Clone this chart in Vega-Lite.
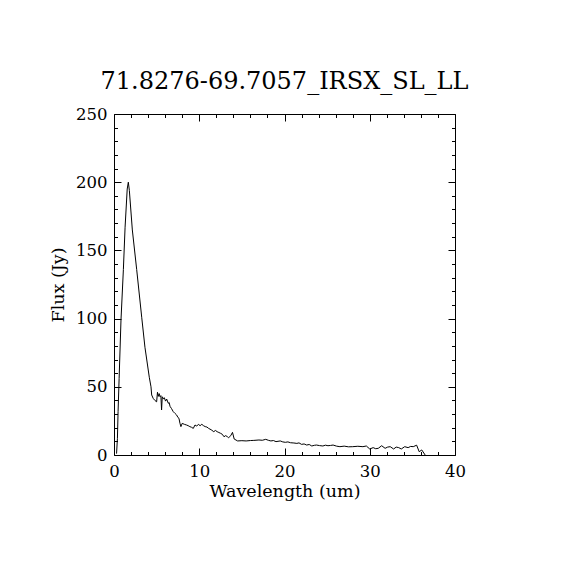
{
  "$schema": "https://vega.github.io/schema/vega-lite/v6.json",
  "autosize": "none",
  "padding": {"left": 114, "top": 114, "right": 115, "bottom": 115},
  "width": 341,
  "height": 341,
  "background": "white",
  "title": {
    "text": "71.8276-69.7057_IRSX_SL_LL",
    "font": "DejaVu Serif",
    "fontSize": 24,
    "fontWeight": "normal",
    "color": "black",
    "baseline": "alphabetic",
    "offset": -7,
    "anchor": "middle"
  },
  "config": {
    "view": {"stroke": null},
    "axis": {
      "grid": false,
      "domainColor": "black",
      "tickColor": "black",
      "labelColor": "black",
      "titleColor": "black",
      "labelFont": "DejaVu Serif",
      "titleFont": "DejaVu Serif",
      "labelFontSize": 16.5,
      "titleFontSize": 17.5,
      "titleFontWeight": "normal",
      "tickWidth": 1,
      "domainWidth": 1
    }
  },
  "data": {
    "values": [
      {"w": 0.3, "f": 1},
      {"w": 0.4, "f": 12},
      {"w": 0.48, "f": 32},
      {"w": 0.6, "f": 56},
      {"w": 0.82, "f": 99},
      {"w": 1.1, "f": 136},
      {"w": 1.3, "f": 167},
      {"w": 1.55, "f": 195},
      {"w": 1.68, "f": 200},
      {"w": 1.8, "f": 194},
      {"w": 2.15, "f": 165},
      {"w": 2.66, "f": 136},
      {"w": 3.25, "f": 101},
      {"w": 3.63, "f": 79},
      {"w": 4.14, "f": 57},
      {"w": 4.34, "f": 50},
      {"w": 4.42, "f": 44},
      {"w": 4.6, "f": 41.5},
      {"w": 4.8, "f": 40},
      {"w": 5.0, "f": 39},
      {"w": 5.1, "f": 46},
      {"w": 5.2, "f": 43},
      {"w": 5.3, "f": 45},
      {"w": 5.4, "f": 42.7},
      {"w": 5.5, "f": 43.5},
      {"w": 5.58, "f": 33},
      {"w": 5.66, "f": 42.7},
      {"w": 5.8, "f": 41},
      {"w": 5.9, "f": 42},
      {"w": 6.05, "f": 39.5},
      {"w": 6.18, "f": 41},
      {"w": 6.37, "f": 37.9},
      {"w": 6.47, "f": 38.5},
      {"w": 6.57, "f": 35.7},
      {"w": 6.75, "f": 34},
      {"w": 6.95, "f": 31.8},
      {"w": 7.15, "f": 30.5},
      {"w": 7.35, "f": 29.3},
      {"w": 7.5, "f": 27.5},
      {"w": 7.62, "f": 26.9},
      {"w": 7.74, "f": 23.2},
      {"w": 7.85, "f": 20.8},
      {"w": 8.0, "f": 23.2},
      {"w": 8.25, "f": 22.5},
      {"w": 8.5, "f": 22},
      {"w": 8.7, "f": 21.5},
      {"w": 8.9, "f": 20.8},
      {"w": 9.1, "f": 20.3},
      {"w": 9.3, "f": 19.5},
      {"w": 9.5, "f": 22},
      {"w": 9.7, "f": 21.2},
      {"w": 9.9, "f": 22.5},
      {"w": 10.1, "f": 21.5},
      {"w": 10.3, "f": 22.5},
      {"w": 10.5, "f": 21.5},
      {"w": 10.7, "f": 20.8},
      {"w": 10.9, "f": 20.5},
      {"w": 11.1, "f": 19.5},
      {"w": 11.4, "f": 18.5},
      {"w": 11.7, "f": 17.1},
      {"w": 11.9, "f": 18},
      {"w": 12.1, "f": 17.1},
      {"w": 12.3, "f": 16.5},
      {"w": 12.5, "f": 15.9},
      {"w": 12.7, "f": 15.2},
      {"w": 12.9, "f": 13.4},
      {"w": 13.1, "f": 14.2},
      {"w": 13.3, "f": 13.4},
      {"w": 13.45, "f": 12.7},
      {"w": 13.7, "f": 14.2},
      {"w": 13.9, "f": 16.6},
      {"w": 14.1, "f": 11.7},
      {"w": 14.5, "f": 10.3},
      {"w": 15.0, "f": 10.5},
      {"w": 15.5, "f": 10.3},
      {"w": 16.0, "f": 10.6},
      {"w": 16.4, "f": 10.7},
      {"w": 17.0, "f": 11},
      {"w": 17.4, "f": 10.8},
      {"w": 17.8, "f": 11.5},
      {"w": 18.1, "f": 10.8},
      {"w": 18.4, "f": 10.3},
      {"w": 18.7, "f": 10.6},
      {"w": 19.0, "f": 9.8},
      {"w": 19.5, "f": 10.3},
      {"w": 19.8, "f": 9.6},
      {"w": 20.1, "f": 9.3},
      {"w": 20.4, "f": 9.6},
      {"w": 20.7, "f": 9.0},
      {"w": 21.1, "f": 8.8},
      {"w": 21.45, "f": 8.5},
      {"w": 21.7, "f": 8.9},
      {"w": 22.0, "f": 7.8},
      {"w": 22.3, "f": 8.1},
      {"w": 22.6, "f": 7.3},
      {"w": 22.9, "f": 7.7},
      {"w": 23.2, "f": 6.6},
      {"w": 23.5, "f": 7.1},
      {"w": 23.75, "f": 7.3},
      {"w": 24.1, "f": 6.9},
      {"w": 24.5, "f": 6.6},
      {"w": 24.8, "f": 7.2},
      {"w": 25.1, "f": 6.8},
      {"w": 25.4, "f": 7.0},
      {"w": 25.7, "f": 7.3},
      {"w": 26.1, "f": 6.5},
      {"w": 26.5, "f": 6.1},
      {"w": 27.0, "f": 6.5},
      {"w": 27.5, "f": 6.0},
      {"w": 28.0, "f": 6.1},
      {"w": 28.6, "f": 6.4},
      {"w": 29.2, "f": 6.1},
      {"w": 29.6, "f": 6.6},
      {"w": 30.0, "f": 4.4},
      {"w": 30.4, "f": 5.4},
      {"w": 30.7, "f": 4.6},
      {"w": 31.0, "f": 4.9},
      {"w": 31.4, "f": 6.8},
      {"w": 31.8, "f": 4.9},
      {"w": 32.1, "f": 5.8},
      {"w": 32.4, "f": 6.1},
      {"w": 32.8, "f": 4.4},
      {"w": 33.1, "f": 5.8},
      {"w": 33.4, "f": 5.4},
      {"w": 33.7, "f": 4.4},
      {"w": 34.1, "f": 6.1},
      {"w": 34.5, "f": 5.4},
      {"w": 34.8, "f": 6.3},
      {"w": 35.1, "f": 6.1},
      {"w": 35.5, "f": 7.2},
      {"w": 35.8, "f": 2.4},
      {"w": 36.1, "f": 3.7},
      {"w": 36.5, "f": 0}
    ]
  },
  "resolve": {"axis": {"x": "independent", "y": "independent"}},
  "layer": [
    {
      "mark": {"type": "line", "color": "black", "strokeWidth": 1},
      "encoding": {
        "x": {
          "field": "w", "type": "quantitative",
          "scale": {"domain": [0, 40], "nice": false, "zero": false},
          "axis": {
            "orient": "bottom", "values": [0, 10, 20, 30, 40], "tickSize": -7,
            "labelPadding": 15, "title": "Wavelength (um)", "titlePadding": 3,
            "format": "d", "labelFlush": false
          }
        },
        "y": {
          "field": "f", "type": "quantitative",
          "scale": {"domain": [0, 250], "nice": false, "zero": false},
          "axis": {
            "orient": "left", "values": [0, 50, 100, 150, 200, 250], "tickSize": -7,
            "labelPadding": 14, "title": "Flux (Jy)", "titlePadding": 8,
            "format": "d", "labelFlush": false
          }
        }
      }
    },
    {
      "mark": {"type": "line", "opacity": 0},
      "encoding": {
        "x": {
          "field": "w", "type": "quantitative",
          "axis": {
            "orient": "bottom", "values": [2, 4, 6, 8, 12, 14, 16, 18, 22, 24, 26, 28, 32, 34, 36, 38],
            "tickSize": -3.5, "labels": false, "domain": false, "title": null
          }
        },
        "y": {
          "field": "f", "type": "quantitative",
          "axis": {
            "orient": "left", "values": [10, 20, 30, 40, 60, 70, 80, 90, 110, 120, 130, 140, 160, 170, 180, 190, 210, 220, 230, 240],
            "tickSize": -3.5, "labels": false, "domain": false, "title": null
          }
        }
      }
    },
    {
      "mark": {"type": "line", "opacity": 0},
      "encoding": {
        "x": {
          "field": "w", "type": "quantitative",
          "axis": {
            "orient": "top", "values": [0, 10, 20, 30, 40],
            "tickSize": -7, "labels": false, "title": null
          }
        },
        "y": {
          "field": "f", "type": "quantitative",
          "axis": {
            "orient": "right", "values": [0, 50, 100, 150, 200, 250],
            "tickSize": -7, "labels": false, "title": null
          }
        }
      }
    },
    {
      "mark": {"type": "line", "opacity": 0},
      "encoding": {
        "x": {
          "field": "w", "type": "quantitative",
          "axis": {
            "orient": "top", "values": [2, 4, 6, 8, 12, 14, 16, 18, 22, 24, 26, 28, 32, 34, 36, 38],
            "tickSize": -3.5, "labels": false, "domain": false, "title": null
          }
        },
        "y": {
          "field": "f", "type": "quantitative",
          "axis": {
            "orient": "right", "values": [10, 20, 30, 40, 60, 70, 80, 90, 110, 120, 130, 140, 160, 170, 180, 190, 210, 220, 230, 240],
            "tickSize": -3.5, "labels": false, "domain": false, "title": null
          }
        }
      }
    }
  ]
}
